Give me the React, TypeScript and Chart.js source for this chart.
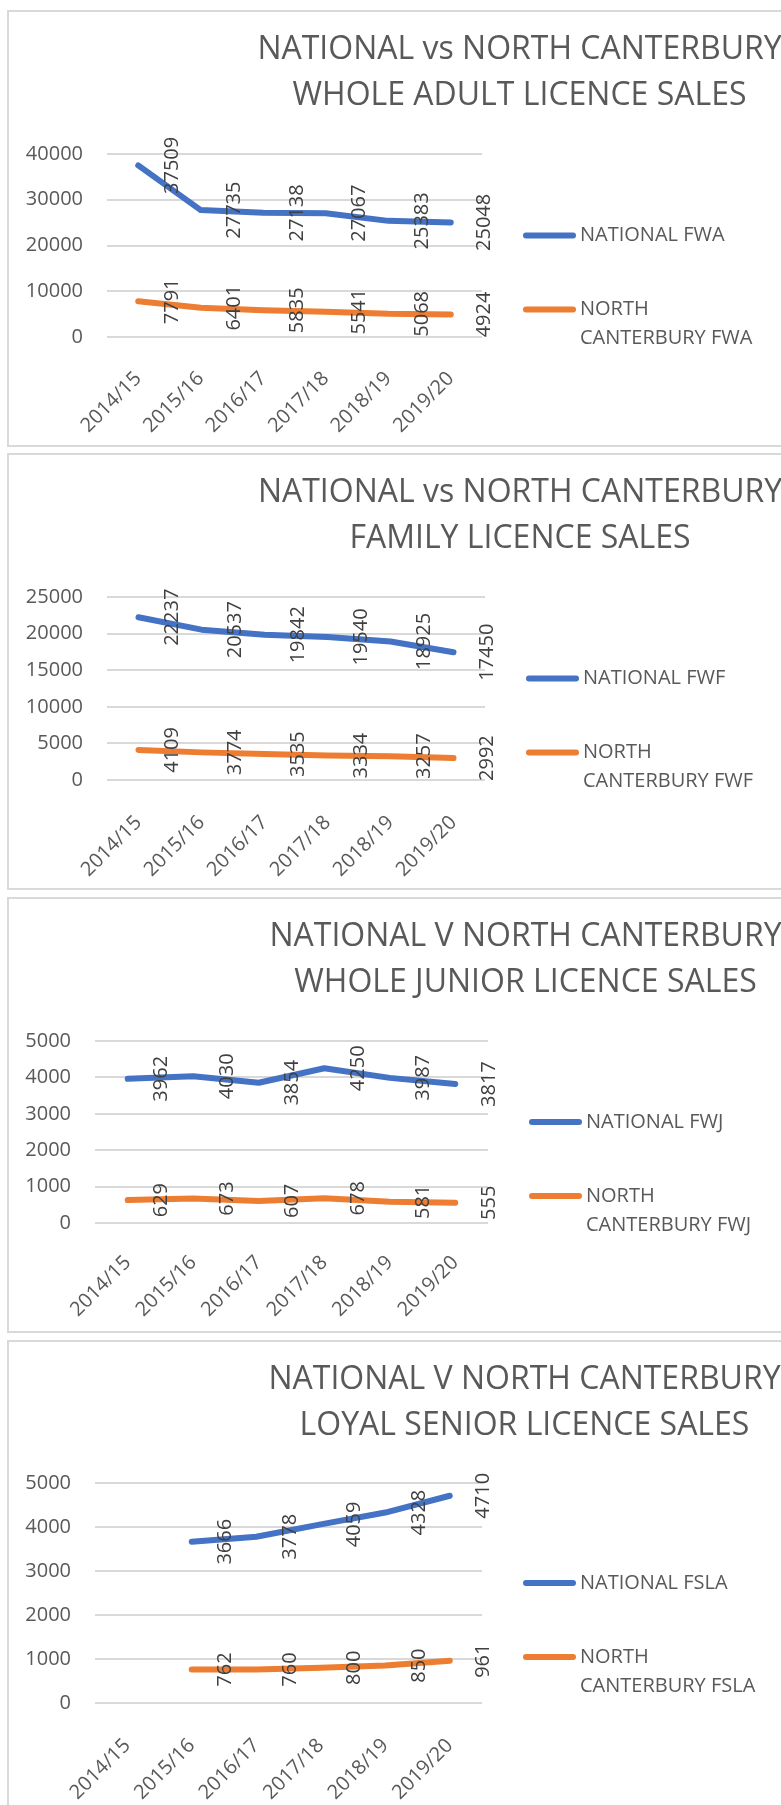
import React, { useEffect, useRef } from 'react';
import { Chart, registerables } from 'chart.js';

Chart.register(...registerables);

// ---- data ----
const seasons = ['2014/15', '2015/16', '2016/17', '2017/18', '2018/19', '2019/20'];

const adultNational = [37509, 27735, 27138, 27067, 25383, 25048];
const adultNorth = [7791, 6401, 5835, 5541, 5068, 4924];

const familyNational = [22237, 20537, 19842, 19540, 18925, 17450];
const familyNorth = [4109, 3774, 3535, 3334, 3257, 2992];

const juniorNational = [3962, 4030, 3854, 4250, 3987, 3817];
const juniorNorth = [629, 673, 607, 678, 581, 555];

const seniorNational = [null, 3666, 3778, 4059, 4328, 4710];
const seniorNorth = [null, 762, 760, 800, 850, 961];

const adultTicks = [0, 10000, 20000, 30000, 40000];
const familyTicks = [0, 5000, 10000, 15000, 20000, 25000];
const juniorTicks = [0, 1000, 2000, 3000, 4000, 5000];
const seniorTicks = [0, 1000, 2000, 3000, 4000, 5000];

const adultTitle = ['NATIONAL vs NORTH CANTERBURY', 'WHOLE ADULT LICENCE SALES'];
const familyTitle = ['NATIONAL vs NORTH CANTERBURY', 'FAMILY LICENCE SALES'];
const juniorTitle = ['NATIONAL V NORTH CANTERBURY', 'WHOLE JUNIOR LICENCE SALES'];
const seniorTitle = ['NATIONAL V NORTH CANTERBURY', 'LOYAL SENIOR LICENCE SALES'];

const adultSeries = ['NATIONAL FWA', 'NORTH CANTERBURY FWA'];
const familySeries = ['NATIONAL FWF', 'NORTH CANTERBURY FWF'];
const juniorSeries = ['NATIONAL FWJ', 'NORTH CANTERBURY FWJ'];
const seniorSeries = ['NATIONAL FSLA', 'NORTH CANTERBURY FSLA'];

// ---- style ----
const FONT = "'Open Sans', 'Noto Sans', sans-serif";
const BLUE = '#4472C4';
const ORANGE = '#ED7D31';
const AXIS_TEXT = '#595959';
const LABEL_TEXT = '#404040';
const GRID = '#d9d9d9';

Chart.defaults.font.family = FONT;
Chart.defaults.font.size = 20;

type PanelLayout = {
  top: number;
  boxH: number;
  width: number;
  plotLeft: number;
  plotRight: number;
  plotTop: number;
  plotBottom: number;
  xPad: number;
};

const panels = [
  {
    title: adultTitle, series: adultSeries, national: adultNational, north: adultNorth, ticks: adultTicks,
    layout: { top: 10, boxH: 437, width: 1021, plotLeft: 98, plotRight: 473, plotTop: 142, plotBottom: 325, xPad: 22 },
  },
  {
    title: familyTitle, series: familySeries, national: familyNational, north: familyNorth, ticks: familyTicks,
    layout: { top: 453, boxH: 437, width: 1022, plotLeft: 98, plotRight: 476, plotTop: 142, plotBottom: 325, xPad: 23 },
  },
  {
    title: juniorTitle, series: juniorSeries, national: juniorNational, north: juniorNorth, ticks: juniorTicks,
    layout: { top: 897, boxH: 436, width: 1033, plotLeft: 86, plotRight: 479, plotTop: 142, plotBottom: 324, xPad: 20 },
  },
  {
    title: seniorTitle, series: seniorSeries, national: seniorNational, north: seniorNorth, ticks: seniorTicks,
    layout: { top: 1340, boxH: 474, width: 1031, plotLeft: 86, plotRight: 473, plotTop: 141, plotBottom: 361, xPad: 23 },
  },
];

// value labels rotated, right of each point
const pointValues = {
  id: 'pointValues',
  afterDatasetsDraw(chart: any) {
    const { ctx } = chart;
    chart.data.datasets.forEach((ds: any, i: number) => {
      const meta = chart.getDatasetMeta(i);
      meta.data.forEach((pt: any, j: number) => {
        const v = ds.data[j];
        if (v === null || v === undefined) return;
        ctx.save();
        ctx.translate(pt.x + 34, pt.y);
        ctx.rotate(-Math.PI / 2);
        ctx.font = `20px ${FONT}`;
        ctx.fillStyle = LABEL_TEXT;
        ctx.textAlign = 'center';
        ctx.textBaseline = 'middle';
        ctx.fillText(String(v), 0, 0);
        ctx.restore();
      });
    });
  },
};

// legend at the right of the plot, wrapping long names
const sideLegend = {
  id: 'sideLegend',
  afterDraw(chart: any) {
    const { ctx, chartArea } = chart;
    const mid = (chartArea.top + chartArea.bottom) / 2;
    ctx.save();
    ctx.font = `20px ${FONT}`;
    chart.data.datasets.forEach((ds: any, i: number) => {
      const y = mid - 10 + i * 74;
      const x0 = chartArea.right + 41;
      ctx.strokeStyle = ds.borderColor;
      ctx.lineWidth = 6;
      ctx.lineCap = 'round';
      ctx.beginPath();
      ctx.moveTo(x0 + 3, y);
      ctx.lineTo(x0 + 50, y);
      ctx.stroke();
      const words = String(ds.label).split(' ');
      const lines: string[] = [];
      let cur = '';
      words.forEach((w) => {
        const test = cur ? cur + ' ' + w : w;
        if (cur && ctx.measureText(test).width > 195) {
          lines.push(cur);
          cur = w;
        } else {
          cur = test;
        }
      });
      if (cur) lines.push(cur);
      ctx.fillStyle = AXIS_TEXT;
      ctx.textAlign = 'left';
      ctx.textBaseline = 'middle';
      lines.forEach((t, j) => ctx.fillText(t, x0 + 57, y + j * 29));
    });
    ctx.restore();
  },
};

function LicenceChart({ panel }: { panel: any }) {
  const ref = useRef<HTMLCanvasElement | null>(null);
  const L: PanelLayout = panel.layout;
  const H = L.boxH - 4;

  useEffect(() => {
    if (!ref.current) return;
    const ticks: number[] = panel.ticks;
    const chart = new Chart(ref.current, {
      type: 'line',
      data: {
        labels: seasons,
        datasets: [
          {
            label: panel.series[0],
            data: panel.national,
            borderColor: BLUE,
            backgroundColor: BLUE,
            borderWidth: 6,
            pointRadius: 0,
            tension: 0,
            borderCapStyle: 'round',
            borderJoinStyle: 'round',
            spanGaps: false,
          },
          {
            label: panel.series[1],
            data: panel.north,
            borderColor: ORANGE,
            backgroundColor: ORANGE,
            borderWidth: 6,
            pointRadius: 0,
            tension: 0,
            borderCapStyle: 'round',
            borderJoinStyle: 'round',
            spanGaps: false,
          },
        ],
      },
      options: {
        responsive: false,
        animation: false,
        devicePixelRatio: 1,
        layout: { padding: 0 },
        plugins: {
          legend: { display: false },
          tooltip: { enabled: false },
          title: {
            display: true,
            text: panel.title,
            color: AXIS_TEXT,
            font: { family: FONT, size: 32, weight: 'normal', lineHeight: 46 / 32 },
            padding: { top: 15, bottom: L.plotTop - 15 - 92 },
          },
        },
        scales: {
          x: {
            type: 'category',
            offset: true,
            grid: { display: false },
            border: { display: false },
            ticks: {
              color: AXIS_TEXT,
              font: { family: FONT, size: 20 },
              minRotation: 45,
              maxRotation: 45,
              padding: L.xPad,
              autoSkip: false,
            },
            afterFit: (s: any) => { s.height = H - L.plotBottom; },
          },
          y: {
            type: 'linear',
            position: 'left',
            min: ticks[0],
            max: ticks[ticks.length - 1],
            grid: { color: GRID, lineWidth: 2, drawTicks: false },
            border: { display: false },
            ticks: {
              stepSize: ticks[1] - ticks[0],
              color: AXIS_TEXT,
              font: { family: FONT, size: 20 },
              padding: 24,
              callback: (v: any) => String(v),
            },
            afterFit: (s: any) => { s.width = L.plotLeft; },
          },
          side: {
            type: 'linear',
            position: 'right',
            display: true,
            grid: { display: false },
            border: { display: false },
            ticks: { display: false },
            afterFit: (s: any) => { s.width = L.width - L.plotRight; },
          },
        },
      } as any,
      plugins: [pointValues, sideLegend],
    });
    return () => chart.destroy();
  }, [panel]);

  return (
    <div
      style={{
        position: 'absolute',
        left: 7,
        top: L.top,
        width: L.width,
        height: H,
        border: `2px solid ${GRID}`,
        background: '#fff',
      }}
    >
      <canvas
        ref={ref}
        width={L.width}
        height={H}
        style={{ display: 'block', width: L.width, height: H }}
      />
    </div>
  );
}

export default function App() {
  return (
    <div
      style={{
        position: 'absolute',
        left: 0,
        top: 0,
        width: 781,
        height: 1805,
        overflow: 'hidden',
        background: '#fff',
      }}
    >
      {panels.map((p, i) => (
        <LicenceChart key={i} panel={p} />
      ))}
    </div>
  );
}
